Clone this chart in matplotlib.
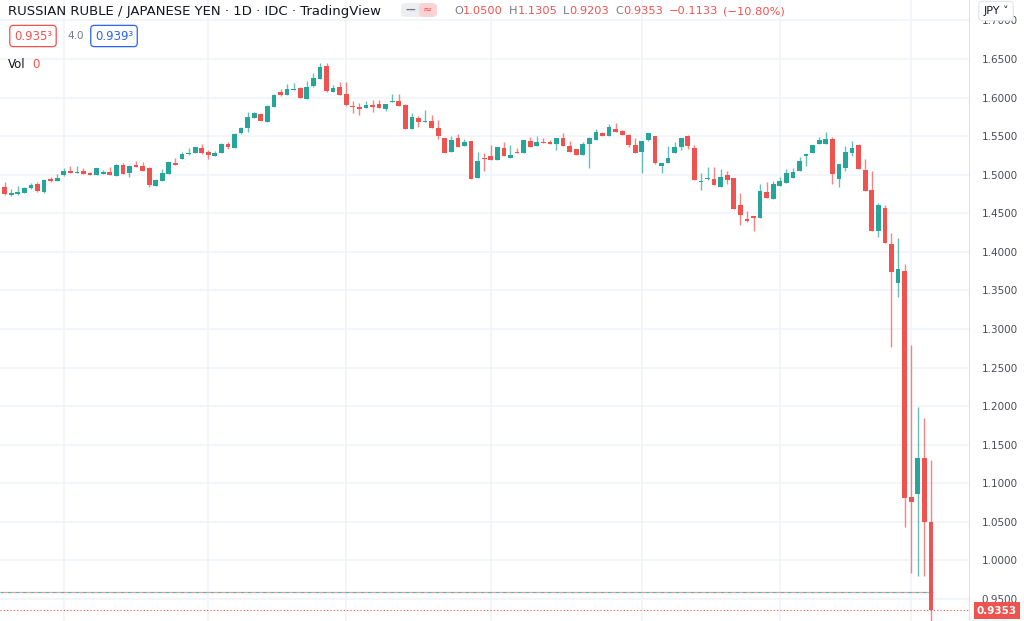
import numpy as np
import pandas as pd
import matplotlib
matplotlib.use("Agg")
import matplotlib.pyplot as plt
from matplotlib.patches import FancyBboxPatch

# daily candles RUB/JPY
opens = [
    1.4802, 1.4841, 1.4737, 1.4750, 1.4763, 1.4828, 1.4880, 1.4776, 1.4944, 1.4918,
    1.4996, 1.5048, 1.5022, 1.5048, 1.5022, 1.4996, 1.5009, 1.5035, 1.4983, 1.5126,
    1.5022, 1.5126, 1.5113, 1.5087, 1.4854, 1.4918, 1.5009, 1.5152, 1.5204, 1.5269,
    1.5282, 1.5346, 1.5294, 1.5243, 1.5282, 1.5398, 1.5346, 1.5541, 1.5606, 1.5735,
    1.5787, 1.5683, 1.5878, 1.6072, 1.6033, 1.6098, 1.6124, 1.5982, 1.6150, 1.6241,
    1.6410, 1.6072, 1.6137, 1.6046, 1.5891, 1.5878, 1.5865, 1.5904, 1.5917, 1.5852,
    1.5943, 1.5956, 1.5904, 1.5593, 1.5735, 1.5683, 1.5696, 1.5606, 1.5476, 1.5294,
    1.5476, 1.5372, 1.5437, 1.4957, 1.5217, 1.5243, 1.5191, 1.5346, 1.5217, 1.5294,
    1.5282, 1.5437, 1.5372, 1.5424, 1.5424, 1.5398, 1.5476, 1.5372, 1.5333, 1.5256,
    1.5398, 1.5450, 1.5541, 1.5502, 1.5593, 1.5567, 1.5515, 1.5385, 1.5294, 1.5450,
    1.5502, 1.5113, 1.5152, 1.5282, 1.5359, 1.5502, 1.5346, 1.4906, 1.4944, 1.4944,
    1.4841, 1.4996, 1.4957, 1.4607, 1.4426, 1.4465, 1.4439, 1.4776, 1.4685, 1.4854,
    1.4893, 1.4957, 1.5048, 1.5243, 1.5282, 1.5398, 1.5398, 1.5463, 1.4944, 1.5087,
    1.5282, 1.5385, 1.5061, 1.4802, 1.4270, 1.4569, 1.4102, 1.3596, 1.3752, 1.0822,
    1.0861, 1.1327, 1.0500]
highs = [
    1.4854, 1.4906, 1.4815, 1.4854, 1.4841, 1.4893, 1.4906, 1.4944, 1.4970, 1.5009,
    1.5087, 1.5113, 1.5113, 1.5087, 1.5035, 1.5087, 1.5061, 1.5100, 1.5139, 1.5152,
    1.5126, 1.5178, 1.5165, 1.5100, 1.4944, 1.5074, 1.5165, 1.5217, 1.5294, 1.5346,
    1.5359, 1.5398, 1.5320, 1.5307, 1.5411, 1.5424, 1.5541, 1.5619, 1.5813, 1.5813,
    1.5800, 1.5904, 1.6046, 1.6111, 1.6176, 1.6189, 1.6137, 1.6215, 1.6319, 1.6448,
    1.6448, 1.6163, 1.6202, 1.6202, 1.5956, 1.5930, 1.5956, 1.5969, 1.5969, 1.5917,
    1.6046, 1.6046, 1.5917, 1.5800, 1.5761, 1.5839, 1.5774, 1.5709, 1.5476, 1.5502,
    1.5528, 1.5463, 1.5437, 1.5294, 1.5282, 1.5385, 1.5359, 1.5424, 1.5385, 1.5346,
    1.5450, 1.5489, 1.5502, 1.5476, 1.5450, 1.5476, 1.5541, 1.5437, 1.5333, 1.5424,
    1.5489, 1.5593, 1.5554, 1.5658, 1.5671, 1.5580, 1.5528, 1.5476, 1.5437, 1.5541,
    1.5502, 1.5152, 1.5372, 1.5424, 1.5476, 1.5515, 1.5385, 1.5022, 1.5100, 1.5100,
    1.5074, 1.5048, 1.4957, 1.4763, 1.4530, 1.4465, 1.4880, 1.4906, 1.4918, 1.4970,
    1.5074, 1.5087, 1.5230, 1.5269, 1.5385, 1.5489, 1.5554, 1.5489, 1.5139, 1.5372,
    1.5437, 1.5398, 1.5204, 1.5048, 1.4633, 1.4607, 1.4245, 1.4180, 1.3843, 1.2792,
    1.1989, 1.1846, 1.1305]
lows = [
    1.4789, 1.4737, 1.4724, 1.4737, 1.4763, 1.4815, 1.4776, 1.4763, 1.4906, 1.4918,
    1.4983, 1.5022, 1.5022, 1.5009, 1.4996, 1.4996, 1.5009, 1.4996, 1.4983, 1.5009,
    1.4970, 1.5100, 1.5048, 1.4841, 1.4854, 1.4918, 1.5009, 1.5126, 1.5204, 1.5256,
    1.5282, 1.5269, 1.5204, 1.5243, 1.5282, 1.5333, 1.5346, 1.5528, 1.5554, 1.5735,
    1.5696, 1.5683, 1.5878, 1.6020, 1.6033, 1.6098, 1.5995, 1.5982, 1.6137, 1.6241,
    1.6072, 1.6072, 1.6033, 1.5891, 1.5800, 1.5774, 1.5865, 1.5813, 1.5865, 1.5826,
    1.5943, 1.5891, 1.5593, 1.5593, 1.5619, 1.5683, 1.5606, 1.5463, 1.5282, 1.5294,
    1.5359, 1.5372, 1.4944, 1.4957, 1.5048, 1.5191, 1.5191, 1.5243, 1.5217, 1.5282,
    1.5282, 1.5359, 1.5372, 1.5411, 1.5398, 1.5320, 1.5372, 1.5294, 1.5256, 1.5256,
    1.5087, 1.5450, 1.5502, 1.5502, 1.5554, 1.5515, 1.5359, 1.5282, 1.5022, 1.5437,
    1.5139, 1.5022, 1.5152, 1.5282, 1.5320, 1.5333, 1.4931, 1.4802, 1.4931, 1.4867,
    1.4841, 1.4880, 1.4556, 1.4348, 1.4387, 1.4270, 1.4439, 1.4698, 1.4685, 1.4854,
    1.4893, 1.4957, 1.5048, 1.5113, 1.5282, 1.5398, 1.5398, 1.4880, 1.4841, 1.5048,
    1.5243, 1.5074, 1.4789, 1.4270, 1.4192, 1.4115, 1.2766, 1.3415, 1.0433, 0.9837,
    0.9798, 0.9798, 0.9203]
closes = [
    1.4841, 1.4750, 1.4763, 1.4776, 1.4828, 1.4867, 1.4789, 1.4931, 1.4918, 1.4957,
    1.5048, 1.5022, 1.5035, 1.5009, 1.4996, 1.5087, 1.5035, 1.4996, 1.5126, 1.5009,
    1.5113, 1.5100, 1.5048, 1.4867, 1.4931, 1.5022, 1.5165, 1.5126, 1.5269, 1.5282,
    1.5359, 1.5282, 1.5256, 1.5282, 1.5398, 1.5359, 1.5528, 1.5606, 1.5748, 1.5800,
    1.5696, 1.5891, 1.6033, 1.6033, 1.6111, 1.6111, 1.5995, 1.6137, 1.6254, 1.6397,
    1.6085, 1.6124, 1.6033, 1.5904, 1.5878, 1.5852, 1.5904, 1.5878, 1.5865, 1.5917,
    1.5956, 1.5891, 1.5593, 1.5748, 1.5683, 1.5696, 1.5606, 1.5502, 1.5282, 1.5450,
    1.5359, 1.5424, 1.4944, 1.5178, 1.5204, 1.5191, 1.5359, 1.5243, 1.5256, 1.5282,
    1.5450, 1.5359, 1.5424, 1.5411, 1.5398, 1.5476, 1.5372, 1.5294, 1.5256, 1.5398,
    1.5476, 1.5554, 1.5502, 1.5619, 1.5554, 1.5515, 1.5385, 1.5282, 1.5437, 1.5541,
    1.5152, 1.5152, 1.5217, 1.5359, 1.5476, 1.5372, 1.4931, 1.4918, 1.4957, 1.4867,
    1.4970, 1.4931, 1.4556, 1.4478, 1.4400, 1.4439, 1.4789, 1.4698, 1.4880, 1.4918,
    1.5022, 1.5035, 1.5178, 1.5269, 1.5385, 1.5450, 1.5463, 1.5009, 1.5139, 1.5294,
    1.5346, 1.5074, 1.4789, 1.4270, 1.4607, 1.4115, 1.3739, 1.3778, 1.0809, 1.0757,
    1.1327, 1.0500, 0.9353]

start_date = "2021-08-18"
price_ticks = [0.95, 1.00, 1.05, 1.10, 1.15, 1.20, 1.25, 1.30, 1.35, 1.40,
               1.45, 1.50, 1.55, 1.60, 1.65, 1.70]
dashed_level = 0.9590
last_price = 0.9353

UP = "#26a69a"
DOWN = "#ef5350"
GREY = "#787b86"
GRID = "#f0f3fa"
W, H = 1024, 621

o = np.array(opens)
h = np.array(highs)
l = np.array(lows)
c = np.array(closes)
n = len(c)
idx = np.arange(n)
dates = pd.bdate_range(start_date, periods=n)
up = c >= o
cols = np.where(up, UP, DOWN)

fig = plt.figure(figsize=(W / 100, H / 100), dpi=100)
fig.patch.set_facecolor("white")
ax = fig.add_axes([0, 0, 969 / W, 1])

# grid: month starts vertically, price levels horizontally
month_start = [i for i in range(1, n) if dates[i].month != dates[i - 1].month]
for m in month_start:
    ax.axvline(m, color=GRID, lw=1.2, zorder=0)
for p in price_ticks:
    ax.axhline(p, color=GRID, lw=1.2, zorder=0)

# candles
ax.vlines(idx, l, h, colors=cols, lw=1.0, alpha=0.7, zorder=2)
body_lo = np.minimum(o, c)
body_h = np.maximum(np.abs(c - o), 0.0012)
ax.bar(idx, body_h, bottom=body_lo, width=0.72, color=cols, lw=0, zorder=3)

# price lines
ax.axhline(dashed_level, xmax=0.963, color=UP, lw=0.9, ls=(0, (3, 3)), alpha=0.8, zorder=1)
ax.axhline(dashed_level, xmax=0.963, color=DOWN, lw=0.9, ls=(3, (3, 3)), alpha=0.6, zorder=1)
ax.axhline(last_price, color=DOWN, lw=0.8, ls=(0, (1, 2)), zorder=1)

ax.set_xlim(0.295, 147.8)
ax.set_ylim(0.92144, 1.7265)
ax.set_xticks([])
ax.yaxis.tick_right()
ax.set_yticks(price_ticks)
ax.set_yticklabels([f"{p:.4f}" for p in price_ticks])
ax.tick_params(axis="y", length=0, pad=9, labelsize=7.5, labelcolor="#4a4d57")
for s in ["top", "left", "bottom"]:
    ax.spines[s].set_visible(False)
ax.spines["right"].set_color("#e0e3eb")


def fx(x):
    return x / W


def fy(y):
    return 1 - y / H


# header
fig.text(fx(8), fy(11), "RUSSIAN RUBLE / JAPANESE YEN · 1D · IDC · TradingView",
         fontsize=9.5, color="#131722", va="center", ha="left")

pill = FancyBboxPatch((fx(401), fy(17)), fx(36), 14 / H, boxstyle="round,pad=0,rounding_size=0.006",
                      transform=fig.transFigure, fc="#eceef2", ec="none")
fig.patches.append(pill)
pill2 = FancyBboxPatch((fx(419), fy(17)), fx(18), 14 / H, boxstyle="round,pad=0,rounding_size=0.006",
                       transform=fig.transFigure, fc="#fbd3d4", ec="none")
fig.patches.append(pill2)
fig.text(fx(410), fy(10), "—", fontsize=7, color=GREY, ha="center", va="center", weight="bold")
fig.text(fx(428), fy(10), "≈", fontsize=8, color=DOWN, ha="center", va="center")

# O H L C line, pieces laid one after another
ohlc_parts = [("O", GREY, 0), ("1.0500", DOWN, 6), ("H", GREY, 0), ("1.1305", DOWN, 6),
              ("L", GREY, 0), ("0.9203", DOWN, 6), ("C", GREY, 0), ("0.9353", DOWN, 6),
              ("−0.1133", DOWN, 5), ("(−10.80%)", DOWN, 0)]
renderer = fig.canvas.get_renderer()
xpos = 454
for txt, col, gap in ohlc_parts:
    t = fig.text(fx(xpos), fy(11), txt, fontsize=8.2, color=col, ha="left", va="center")
    bb = t.get_window_extent(renderer)
    xpos = bb.x1 + gap

fig.text(fx(33), fy(36), "0.935³", fontsize=8.5, color=DOWN, ha="center", va="center",
         bbox=dict(boxstyle="round,pad=0.35,rounding_size=0.3", fc="white", ec=DOWN, lw=0.9))
fig.text(fx(67), fy(36), "4.0", fontsize=7.5, color=GREY, ha="left", va="center")
fig.text(fx(114), fy(36), "0.939³", fontsize=8.5, color="#2962ff", ha="center", va="center",
         bbox=dict(boxstyle="round,pad=0.35,rounding_size=0.3", fc="white", ec="#2962ff", lw=0.9))
fig.text(fx(8), fy(64), "Vol", fontsize=8.5, color="#131722", ha="left", va="center")
fig.text(fx(32), fy(64), "0", fontsize=8.5, color=DOWN, ha="left", va="center")

# currency button and last price tag
fig.text(fx(996), fy(11), "JPY ˅", fontsize=8, color="#131722", ha="center", va="center",
         bbox=dict(boxstyle="round,pad=0.4,rounding_size=0.3", fc="white", ec="#e0e3eb", lw=0.8))
fig.text(fx(997), fy(610.5), f"{last_price:.4f}", fontsize=7.5, color="white", ha="center",
         va="center", weight="bold",
         bbox=dict(boxstyle="square,pad=0.3", fc=DOWN, ec="none"))

fig.savefig("out.png", dpi=100, facecolor="white")
